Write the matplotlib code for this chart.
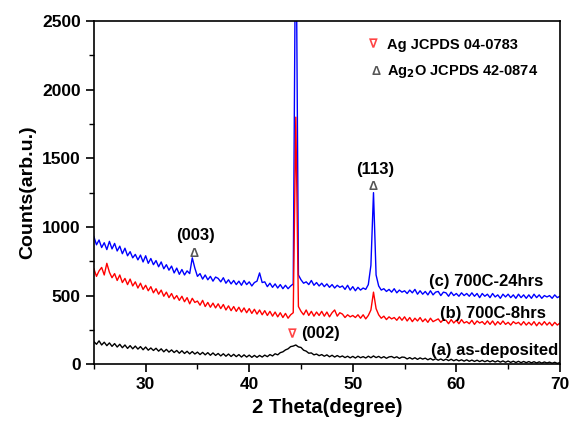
import numpy as np
import matplotlib
matplotlib.use('Agg')
import matplotlib.pyplot as plt
from matplotlib.ticker import MultipleLocator

plt.rcParams['font.family'] = ['Liberation Sans', 'DejaVu Sans']
plt.rcParams['font.weight'] = 'bold'

# 2-theta grid, 0.25 deg steps from 25 to 70
two_theta = np.arange(25, 70.001, 0.25)

# (c) 700C-24hrs
counts_c = [930, 870, 905, 850, 885, 835, 895, 840,
            880, 825, 860, 805, 845, 790, 820, 775,
            800, 760, 795, 745, 790, 735, 770, 725,
            755, 710, 745, 695, 725, 685, 715, 665,
            700, 655, 690, 650, 680, 660, 775, 700,
            640, 660, 620, 650, 615, 640, 605, 635,
            625, 600, 630, 590, 615, 585, 610, 580,
            605, 575, 610, 580, 600, 570, 595, 605,
            665, 595, 600, 565, 590, 560, 585, 555,
            580, 550, 575, 550, 570, 585, 3500, 650,
            615, 590, 600, 580, 610, 575, 595, 570,
            590, 565, 585, 560, 580, 555, 575, 560,
            570, 545, 575, 540, 565, 535, 560, 540,
            555, 545, 580, 720, 1250, 650, 570, 540,
            550, 530, 545, 525, 550, 520, 540, 525,
            535, 515, 540, 520, 545, 510, 535, 510,
            530, 505, 535, 505, 525, 530, 500, 525,
            520, 495, 525, 500, 515, 495, 520, 500,
            515, 495, 520, 495, 515, 485, 515, 495,
            510, 485, 515, 490, 505, 480, 510, 490,
            510, 485, 505, 480, 510, 485, 505, 480,
            505, 480, 510, 485, 505, 480, 500, 490,
            500, 480, 505, 485, 495]

# (b) 700C-8hrs
counts_b = [695, 640, 680, 705, 650, 735, 670, 630,
            660, 610, 650, 595, 625, 580, 620, 570,
            600, 555, 590, 545, 575, 535, 565, 520,
            550, 510, 540, 495, 525, 485, 515, 475,
            500, 465, 495, 455, 485, 440, 480, 450,
            460, 430, 465, 420, 450, 415, 445, 410,
            440, 405, 435, 395, 425, 390, 420, 385,
            415, 380, 410, 375, 405, 370, 400, 365,
            395, 360, 390, 355, 385, 350, 380, 345,
            375, 340, 370, 335, 360, 375, 1800, 420,
            385, 360, 395, 355, 385, 350, 380, 355,
            385, 350, 380, 345, 375, 395, 350, 375,
            365, 340, 360, 345, 355, 340, 360, 335,
            360, 330, 355, 395, 525, 405, 360, 335,
            350, 325, 345, 330, 340, 320, 345, 320,
            345, 315, 340, 310, 335, 315, 340, 310,
            330, 305, 335, 310, 320, 330, 305, 325,
            320, 295, 325, 300, 320, 295, 325, 300,
            310, 295, 320, 290, 315, 300, 310, 290,
            315, 290, 315, 285, 310, 290, 315, 290,
            305, 285, 310, 295, 305, 285, 310, 285,
            305, 285, 310, 280, 305, 285, 310, 285,
            305, 280, 305, 285, 300]

# (a) as-deposited
counts_a = [165, 145, 170, 140, 160, 135, 155, 130,
            150, 125, 145, 120, 140, 115, 135, 112,
            132, 110, 128, 105, 125, 102, 118, 100,
            116, 95, 112, 90, 108, 88, 104, 85,
            100, 80, 98, 78, 94, 75, 92, 74,
            88, 70, 86, 68, 84, 65, 82, 64,
            78, 60, 76, 58, 74, 56, 72, 55,
            70, 52, 68, 52, 66, 50, 64, 50,
            64, 52, 66, 55, 70, 60, 76, 68,
            84, 90, 104, 112, 128, 132, 140, 126,
            122, 102, 95, 80, 82, 68, 74, 62,
            70, 58, 68, 54, 65, 52, 63, 52,
            60, 48, 58, 46, 57, 45, 58, 47,
            55, 45, 58, 47, 60, 48, 57, 45,
            55, 43, 53, 56, 46, 54, 42, 52,
            50, 38, 48, 37, 47, 35, 46, 37,
            44, 32, 42, 30, 40, 29, 38, 27,
            37, 26, 36, 25, 34, 24, 32, 22,
            32, 21, 30, 20, 29, 19, 28, 18,
            27, 17, 26, 16, 25, 15, 24, 14,
            23, 13, 22, 12, 21, 11, 20, 11,
            19, 10, 18, 9, 17, 8, 16, 9,
            15, 7, 14, 6, 12]

fig = plt.figure(figsize=(5.69, 4.22), dpi=100)
ax = fig.add_axes([0.165, 0.137, 0.819, 0.813])

ax.plot(two_theta, counts_c, color='#0000ff', lw=1.0)
ax.plot(two_theta, counts_b, color='#ff0000', lw=1.0)
ax.plot(two_theta, counts_a, color='black', lw=1.0)

ax.set_xlim(25, 70)
ax.set_ylim(0, 2500)
ax.xaxis.set_major_locator(MultipleLocator(10))
ax.xaxis.set_minor_locator(MultipleLocator(5))
ax.yaxis.set_major_locator(MultipleLocator(500))
ax.yaxis.set_minor_locator(MultipleLocator(250))
ax.set_xticks([30, 40, 50, 60, 70])
ax.tick_params(which='major', direction='out', length=6, width=1.2, labelsize=12.5)
ax.tick_params(which='minor', direction='out', length=3.5, width=1)
for s in ax.spines.values():
    s.set_linewidth(1.2)

ax.set_xlabel('2 Theta(degree)', fontsize=14.5, fontweight='bold')
ax.set_ylabel('Counts(arb.u.)', fontsize=14, fontweight='bold')

# peak annotations
ax.text(34.8, 935, '(003)', fontsize=12, ha='center', va='center')
ax.text(34.7, 805, '\u0394', fontsize=9, ha='center', va='center', color='#555555')
ax.text(52.15, 1420, '(113)', fontsize=12, ha='center', va='center')
ax.text(52.0, 1290, '\u0394', fontsize=9, ha='center', va='center', color='#555555')
ax.text(44.2, 210, '\u2207', fontsize=9, ha='center', va='center', color='#ff4444')
ax.text(45.0, 225, '(002)', fontsize=12, ha='left', va='center')

# series labels
ax.text(68.4, 600, '(c) 700C-24hrs', fontsize=12, ha='right', va='center')
ax.text(68.6, 372, '(b) 700C-8hrs', fontsize=12, ha='right', va='center')
ax.text(69.8, 100, '(a) as-deposited', fontsize=12, ha='right', va='center')

# reference legend
ax.text(52.0, 2325, '\u2207', fontsize=9, ha='center', va='center', color='#ff4444')
ax.text(53.3, 2325, 'Ag JCPDS 04-0783', fontsize=10.5, ha='left', va='center')
ax.text(52.2, 2130, '\u0394', fontsize=9, ha='center', va='center', color='#555555')
ax.text(53.3, 2130, 'Ag$_2$O JCPDS 42-0874', fontsize=10.5, ha='left', va='center')

fig.savefig('out.png', dpi=100)
